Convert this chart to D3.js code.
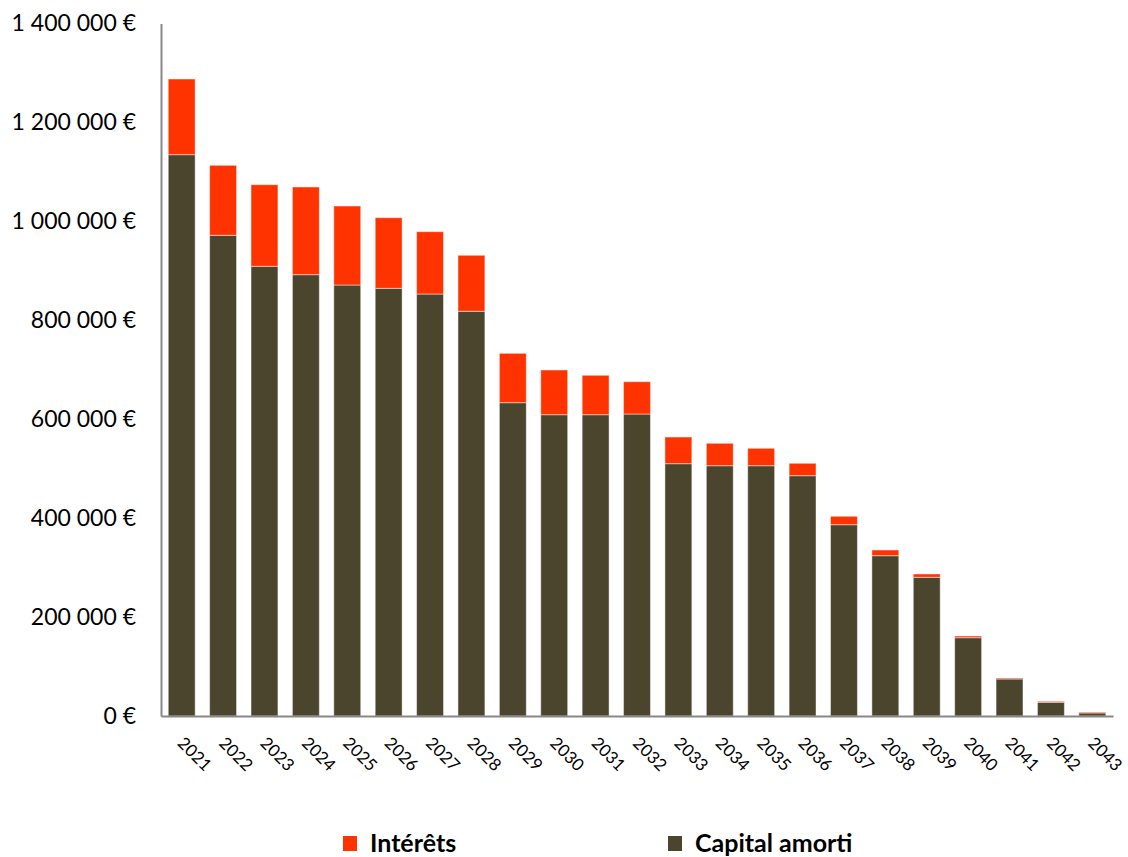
<!DOCTYPE html>
<html lang="fr">
<head>
<meta charset="utf-8">
<title>Amortissement</title>
<script src="https://cdn.jsdelivr.net/npm/d3@7"></script>
<style>
  body { margin: 0; background: #fff; }
  svg text { font-family: Lato, "Open Sans", sans-serif; fill: #000; }
</style>
</head>
<body>
<script>
// data -----------------------------------------------------------------
var years = ["2021","2022","2023","2024","2025","2026","2027","2028","2029","2030","2031","2032",
             "2033","2034","2035","2036","2037","2038","2039","2040","2041","2042","2043"];
var capital = [1134800, 971800, 909100, 892200, 871300, 864600, 853100, 818200, 633400, 609100, 609100, 610500,
               510100, 506000, 506000, 485800, 386700, 324100, 280400, 158300, 74800, 27700, 6100];
var interets = [153000, 141500, 165000, 177300, 159700, 142800, 126000, 113200, 99800, 90400, 79700, 65300,
                53900, 45300, 35200, 25100, 17000, 11500, 6700, 3400, 2000, 2000, 1500];
var yTicks = [0, 200000, 400000, 600000, 800000, 1000000, 1200000, 1400000];
var seriesNames = ["Intérêts", "Capital amorti"];

var colInt = "#ff3300", colCap = "#4b452e";

var width = 1128, height = 857;
var plotLeft = 161, plotRight = 1113, plotTop = 23.5, plotBottom = 716;

var svg = d3.select("body").append("svg")
    .attr("width", width).attr("height", height);

var x = d3.scaleBand().domain(years).range([plotLeft, plotRight])
    .paddingInner(0.35).paddingOuter(0.175);
var y = d3.scaleLinear().domain([0, 1400000]).range([plotBottom, plotTop]);

// stacked table
var rows = years.map((yr, i) => ({ year: yr, capital: capital[i], interets: interets[i] }));
var stacked = d3.stack().keys(["capital", "interets"])(rows);
var colors = { capital: colCap, interets: colInt };

svg.append("g").selectAll("g")
  .data(stacked).join("g")
    .attr("fill", d => colors[d.key])
  .selectAll("rect")
  .data(d => d).join("rect")
    .attr("x", d => x(d.data.year))
    .attr("y", d => y(d[1]))
    .attr("width", x.bandwidth())
    .attr("height", d => y(d[0]) - y(d[1]))
    .attr("stroke", "rgba(255,255,255,0.45)")
    .attr("stroke-width", 1);

// y axis
var fmt = v => d3.format(",")(v).replace(/,/g, " ") + " €";
svg.append("g")
    .attr("transform", "translate(" + plotLeft + ",0)")
    .call(d3.axisLeft(y).tickValues(yTicks).tickFormat(fmt).tickSize(0).tickPadding(25))
    .call(g => g.select(".domain").attr("stroke", "#888").attr("stroke-width", 2))
    .call(g => g.selectAll("text").attr("font-size", 23).attr("font-family", "Lato, sans-serif").attr("fill", "#000"));

// x axis
var xg = svg.append("g")
    .attr("transform", "translate(0," + plotBottom + ")")
    .call(d3.axisBottom(x).tickSize(0).tickFormat(""));
xg.select(".domain").attr("stroke", "#888").attr("stroke-width", 2);

svg.append("g").selectAll("text")
  .data(years).join("text")
    .attr("transform", d => "translate(" + (x(d) + x.bandwidth() / 2 - 1) + ",740) rotate(45)")
    .attr("font-size", 17)
    .attr("text-anchor", "start")
    .attr("dy", "0.35em")
    .text(d => d);

// legend
var legend = svg.append("g").selectAll("g")
  .data(seriesNames).join("g")
    .attr("transform", (d, i) => "translate(" + (i === 0 ? 343 : 668) + ",836)");
legend.append("rect")
    .attr("width", 14).attr("height", 15)
    .attr("fill", (d, i) => i === 0 ? colInt : colCap);
legend.append("text")
    .attr("x", 27).attr("y", 16)
    .attr("font-size", 25).attr("font-weight", "bold")
    .text(d => d);
</script>
</body>
</html>
